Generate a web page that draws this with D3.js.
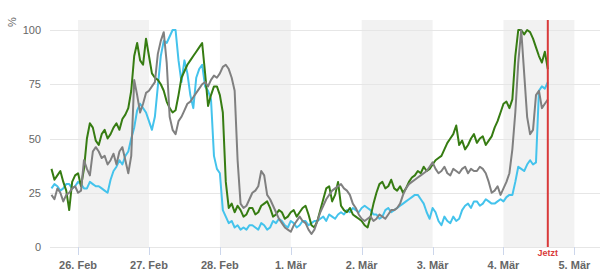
<!DOCTYPE html>
<meta charset="utf-8">
<head>
<style>
  body { margin: 0; background: #fff; }
  svg { font-family: "Liberation Sans", Arial, sans-serif; }
  .ylab { font-size: 11px; fill: #666; }
  .xlab { font-size: 11px; font-weight: bold; fill: #666; }
  .grid line { stroke: #e6e6e6; stroke-width: 1; }
  .band { fill: #f2f2f2; }
  .line { fill: none; stroke-width: 2; stroke-linejoin: round; }
</style>
</head>
<body>
<script src="https://cdn.jsdelivr.net/npm/d3@7"></script>
<script>

// hourly values, from 25 Feb 15:00 to 4 Mar 15:00
var startTime = Date.UTC(2021, 1, 25, 15);
var stepHours = 1;

var green = [36,31,33,35,30,26,17,30,33,34,28,36,50,57,55,49,47,52,54,50,
             52,55,57,54,59,61,64,72,88,94,86,84,96,88,80,78,77,75,72,67,
             64,62,63,70,78,81,84,86,88,90,92,94,80,65,70,74,74,70,62,30,
             18,20,16,19,17,14,15,18,18,15,16,19,20,21,18,14,15,17,16,13,
             14,16,17,14,16,18,19,15,10,9,12,17,22,27,28,21,24,30,19,17,
             16,18,15,14,13,12,10,9,14,20,25,29,30,27,28,31,27,26,28,25,
             27,30,32,33,35,34,37,35,36,38,40,41,42,45,48,50,52,56,47,49,
             45,47,50,52,48,50,51,47,49,51,55,58,62,66,67,64,68,88,100,100,
             98,100,99,96,92,88,85,90,82];
var grey = [24,22,27,25,21,24,25,27,28,25,26,40,36,33,44,46,44,41,42,38,
            40,43,38,44,46,40,34,42,77,70,62,66,71,72,74,76,89,95,99,85,
            60,54,52,58,60,63,66,67,69,71,73,75,76,74,77,79,78,80,83,84,
            82,78,72,40,20,18,19,22,25,26,28,35,33,24,22,19,16,13,11,9,
            8,7,10,12,14,12,11,8,6,8,12,16,19,22,24,26,27,28,29,27,
            26,24,20,18,15,13,12,13,14,12,13,15,14,13,15,17,17,18,20,24,
            27,29,30,31,32,33,34,35,37,39,36,34,35,37,34,33,36,35,34,36,
            37,34,36,35,35,37,36,34,30,25,26,28,24,27,30,34,45,62,85,100,
            80,60,52,54,70,72,64,66,68];
var cyan = [27,29,28,26,27,29,29,27,28,30,29,27,27,30,29,28,28,27,26,25,
            31,35,37,40,38,42,44,50,55,63,66,64,62,58,54,60,74,88,95,94,
            97,100,100,86,76,86,80,70,64,78,82,84,74,72,68,42,36,34,17,14,
            11,12,9,10,8,9,8,10,10,9,8,11,10,8,9,12,11,13,12,10,
            9,12,11,9,10,12,12,10,11,12,12,13,14,12,15,14,13,15,16,15,
            17,16,18,17,16,18,19,18,17,15,15,13,14,17,18,16,17,18,19,20,
            21,22,23,24,24,22,20,16,13,18,16,12,10,14,12,11,14,12,13,17,
            19,20,18,21,21,19,20,22,21,20,20,21,22,21,23,24,24,30,37,36,
            35,38,40,38,39,72,74,73,76];

var yTicks = [0, 25, 50, 75, 100];
var dayLabels = ["26. Feb", "27. Feb", "28. Feb", "1. Mär", "2. Mär", "3. Mär", "4. Mär", "5. Mär"];
var shadedDays = [0, 2, 4, 6];   // index into dayLabels
var nowTime = Date.UTC(2021, 2, 4, 15);

var width = 600, height = 280;
var plot = {left: 50, right: 600, top: 20, bottom: 247};

var svg = d3.select("body").append("svg")
    .attr("width", width)
    .attr("height", height);

var x = d3.scaleUtc()
    .domain([new Date(Date.UTC(2021, 1, 25, 14, 30)), new Date(Date.UTC(2021, 2, 5, 8, 40))])
    .range([plot.left, plot.right]);
var y = d3.scaleLinear()
    .domain([0, 100])
    .range([plot.bottom, 30]);

var days = dayLabels.map(function(d, i) { return new Date(Date.UTC(2021, 1, 26 + i)); });

// alternating day bands
svg.selectAll(".band")
    .data(shadedDays)
    .enter().append("rect")
    .attr("class", "band")
    .attr("x", function(d) { return x(days[d]); })
    .attr("width", function(d) { return x(days[d + 1]) - x(days[d]); })
    .attr("y", plot.top)
    .attr("height", plot.bottom - plot.top);

// grid lines
svg.append("g")
    .attr("class", "grid")
    .selectAll("line")
    .data(yTicks)
    .enter().append("line")
    .attr("x1", plot.left).attr("x2", plot.right)
    .attr("y1", function(d) { return Math.round(y(d)) + 0.5; })
    .attr("y2", function(d) { return Math.round(y(d)) + 0.5; });

// y labels
svg.selectAll(".ylab")
    .data(yTicks)
    .enter().append("text")
    .attr("class", "ylab")
    .attr("x", 41)
    .attr("y", function(d) { return y(d) + 4; })
    .attr("text-anchor", "end")
    .text(function(d) { return d; });

svg.append("text")
    .attr("class", "ylab")
    .attr("font-size", "10px")
    .attr("transform", "translate(16,22) rotate(-90)")
    .attr("text-anchor", "middle")
    .text("%");

// x axis ticks + labels
svg.selectAll(".xtick")
    .data(days)
    .enter().append("line")
    .attr("class", "xtick")
    .attr("x1", function(d) { return Math.round(x(d)) + 0.5; })
    .attr("x2", function(d) { return Math.round(x(d)) + 0.5; })
    .attr("y1", plot.bottom)
    .attr("y2", plot.bottom + 8)
    .attr("stroke", "#ccd6eb");

svg.selectAll(".xlab")
    .data(days)
    .enter().append("text")
    .attr("class", "xlab")
    .attr("x", function(d) { return x(d); })
    .attr("y", 269)
    .attr("text-anchor", "middle")
    .text(function(d, i) { return dayLabels[i]; });

// series
var times = green.map(function(d, i) { return new Date(startTime + i * stepHours * 3600e3); });
var line = d3.line()
    .x(function(d, i) { return x(times[i]); })
    .y(function(d) { return y(d); });

var series = [
  {values: cyan, color: "#44c3ec"},
  {values: green, color: "#367c12"},
  {values: grey, color: "#808080"}
];
svg.selectAll(".line")
    .data(series)
    .enter().append("path")
    .attr("class", "line")
    .attr("stroke", function(d) { return d.color; })
    .attr("d", function(d) { return line(d.values); });

// now marker
svg.append("line")
    .attr("x1", x(new Date(nowTime))).attr("x2", x(new Date(nowTime)))
    .attr("y1", plot.top).attr("y2", plot.bottom)
    .attr("stroke", "#d93a3a")
    .attr("stroke-width", 2);

svg.append("text")
    .attr("x", x(new Date(nowTime)))
    .attr("y", 256)
    .attr("text-anchor", "middle")
    .attr("font-size", "9px")
    .attr("font-weight", "bold")
    .attr("fill", "#d93a3a")
    .text("Jetzt");

</script>
</body>
